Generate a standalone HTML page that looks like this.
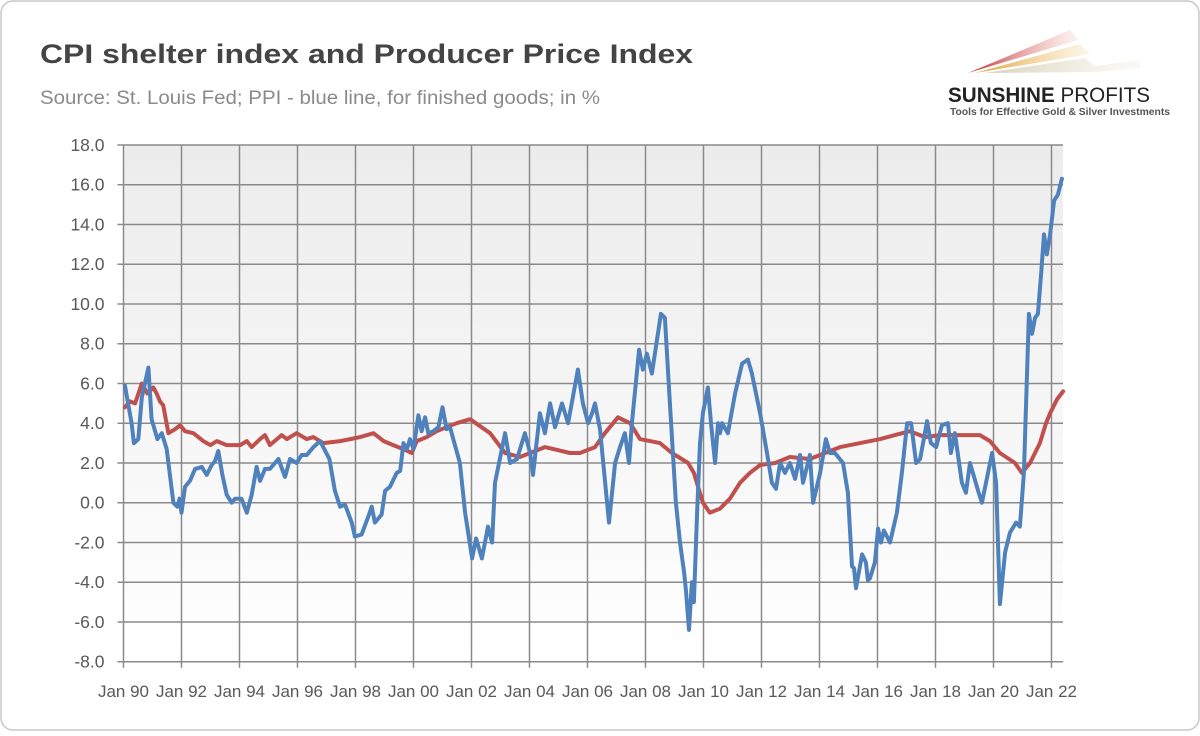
<!DOCTYPE html>
<html><head><meta charset="utf-8"><style>
body{margin:0;background:#fff;}
#wrap{position:relative;width:1200px;height:731px;font-family:"Liberation Sans",sans-serif;}
</style></head><body>
<div id="wrap">
<svg id="svg" width="1200" height="731" xmlns="http://www.w3.org/2000/svg">
<defs>
<linearGradient id="bg" x1="0" y1="0" x2="0" y2="1"><stop offset="0" stop-color="#ececec"/><stop offset="1" stop-color="#ffffff"/></linearGradient>
<linearGradient id="r1" x1="0" y1="0" x2="1" y2="0"><stop offset="0" stop-color="#c0282d"/><stop offset="1" stop-color="#f6d0c8" stop-opacity="0.3"/></linearGradient>
<linearGradient id="r2" x1="0" y1="0" x2="1" y2="0"><stop offset="0" stop-color="#e0a030"/><stop offset="1" stop-color="#f6e0b0" stop-opacity="0.3"/></linearGradient>
<linearGradient id="r3" x1="0" y1="0" x2="1" y2="0"><stop offset="0" stop-color="#d8d0b8"/><stop offset="1" stop-color="#f0ece0" stop-opacity="0.3"/></linearGradient>
</defs>
<rect x="1" y="1" width="1198" height="729" rx="12" fill="#fff" stroke="#c8c8c8" stroke-width="1.5"/>
<text x="40" y="63" font-size="27" font-weight="bold" fill="#444" textLength="653" lengthAdjust="spacingAndGlyphs">CPI shelter index and Producer Price Index</text>
<text x="40" y="104" font-size="19" fill="#8a8a8a" textLength="560" lengthAdjust="spacingAndGlyphs">Source: St. Louis Fed; PPI - blue line, for finished goods; in %</text>
<g>
<polygon points="968,73 1070,30 1078,40" fill="url(#r1)"/>
<polygon points="975,73 1080,44 1090,54" fill="url(#r2)"/>
<polygon points="985,73 1085,58 1095,66 1140,60 1140,68 1095,72" fill="url(#r3)"/>
<text x="948" y="102" font-size="21" font-weight="bold" fill="#222" textLength="202" lengthAdjust="spacingAndGlyphs">SUNSHINE <tspan font-weight="normal">PROFITS</tspan></text>
<text x="950" y="115" font-size="10" font-weight="bold" fill="#555" textLength="220" lengthAdjust="spacingAndGlyphs">Tools for Effective Gold &amp; Silver Investments</text>
</g>
<g id="plot"></g>
</svg>
</div>
<script>
const yTicks=[18,16,14,12,10,8,6,4,2,0,-2,-4,-6,-8];
const xTickYears=[1990,1992,1994,1996,1998,2000,2002,2004,2006,2008,2010,2012,2014,2016,2018,2020,2022];
const xTickLabels=["Jan 90","Jan 92","Jan 94","Jan 96","Jan 98","Jan 00","Jan 02","Jan 04","Jan 06","Jan 08","Jan 10","Jan 12","Jan 14","Jan 16","Jan 18","Jan 20","Jan 22"];
const ppiDates=[1990.05,1990.28,1990.36,1990.51,1990.63,1990.86,1990.97,1991.17,1991.32,1991.49,1991.72,1991.86,1991.93,1992.0,1992.12,1992.29,1992.47,1992.7,1992.87,1993.04,1993.16,1993.27,1993.41,1993.56,1993.73,1993.85,1994.07,1994.25,1994.42,1994.59,1994.71,1994.88,1995.05,1995.34,1995.57,1995.74,1995.97,1996.14,1996.32,1996.55,1996.78,1997.1,1997.29,1997.47,1997.64,1997.87,1997.98,1998.21,1998.44,1998.56,1998.67,1998.9,1999.02,1999.19,1999.42,1999.54,1999.65,1999.77,1999.88,2000.0,2000.17,2000.28,2000.4,2000.51,2000.68,2000.86,2001.0,2001.14,2001.26,2001.6,2001.78,2002.02,2002.16,2002.36,2002.57,2002.71,2002.81,2003.16,2003.33,2003.57,2003.84,2004.02,2004.12,2004.36,2004.53,2004.71,2004.88,2005.12,2005.33,2005.67,2005.84,2006.02,2006.16,2006.26,2006.43,2006.74,2006.95,2007.12,2007.29,2007.43,2007.53,2007.78,2007.91,2008.05,2008.22,2008.53,2008.67,2008.84,2009.05,2009.19,2009.33,2009.4,2009.5,2009.6,2009.67,2009.78,2009.88,2009.98,2010.15,2010.26,2010.4,2010.5,2010.57,2010.64,2010.84,2011.09,2011.33,2011.53,2011.67,2011.95,2012.19,2012.36,2012.5,2012.64,2012.81,2012.98,2013.16,2013.33,2013.43,2013.67,2013.78,2014.02,2014.22,2014.36,2014.53,2014.81,2014.98,2015.12,2015.19,2015.26,2015.47,2015.6,2015.67,2015.74,2015.91,2016.02,2016.12,2016.22,2016.43,2016.67,2016.84,2017.02,2017.16,2017.33,2017.47,2017.71,2017.84,2018.02,2018.22,2018.43,2018.53,2018.67,2018.91,2019.05,2019.19,2019.47,2019.6,2019.74,2019.95,2020.09,2020.22,2020.4,2020.57,2020.78,2020.91,2021.05,2021.22,2021.33,2021.43,2021.53,2021.64,2021.74,2021.84,2021.95,2022.09,2022.22,2022.36];
const ppiValues=[5.9,4.0,3.0,3.2,5.3,6.8,4.2,3.2,3.5,2.7,0.0,-0.2,0.2,-0.5,0.8,1.1,1.7,1.8,1.4,1.9,2.1,2.6,1.4,0.4,0.0,0.2,0.2,-0.5,0.4,1.8,1.1,1.7,1.7,2.2,1.3,2.2,2.0,2.4,2.4,2.8,3.1,2.2,0.6,-0.2,-0.1,-1.0,-1.7,-1.6,-0.7,-0.2,-1.0,-0.6,0.6,0.8,1.5,1.6,3.0,2.7,3.2,2.7,4.4,3.6,4.3,3.5,3.6,3.8,4.8,3.7,3.8,2.0,-0.5,-2.8,-1.8,-2.8,-1.2,-2.0,1.0,3.5,2.0,2.2,3.5,2.5,1.4,4.5,3.5,5.0,3.8,5.0,4.0,6.7,5.0,4.0,4.5,5.0,3.7,-1.0,2.0,2.8,3.5,2.0,4.0,7.7,6.7,7.5,6.5,9.5,9.3,5.0,0.0,-2.0,-3.5,-4.5,-6.4,-4.0,-5.0,-0.5,3.0,4.5,5.8,4.0,2.0,4.0,3.5,4.0,3.5,5.5,7.0,7.2,6.5,4.5,2.5,1.0,0.7,2.0,1.5,2.0,1.2,2.4,1.0,2.4,0.0,1.5,3.2,2.5,2.5,2.0,0.5,-3.2,-3.3,-4.3,-2.6,-3.0,-3.9,-3.8,-3.0,-1.3,-2.0,-1.4,-2.0,-0.5,1.5,4.0,4.0,2.0,2.2,4.1,3.0,2.8,3.9,4.0,2.5,3.5,1.0,0.5,2.0,0.6,0.0,1.0,2.5,1.0,-5.1,-2.5,-1.5,-1.0,-1.2,1.5,9.5,8.5,9.3,9.5,11.5,13.5,12.5,13.5,15.2,15.5,16.3];
const cpiDates=[1990.05,1990.22,1990.4,1990.63,1990.82,1991.03,1991.14,1991.26,1991.37,1991.55,1991.78,1991.95,1992.12,1992.41,1992.75,1993.0,1993.22,1993.56,1994.02,1994.25,1994.42,1994.71,1994.88,1995.05,1995.45,1995.63,1995.97,1996.32,1996.55,1996.89,1997.47,1997.82,1998.16,1998.62,1998.97,1999.3,1999.65,1999.94,2000.11,2000.45,2000.8,2001.14,2001.49,2001.95,2002.64,2003.16,2003.67,2004.02,2004.53,2005.4,2005.74,2006.26,2006.6,2007.05,2007.47,2007.81,2008.5,2008.91,2009.47,2009.67,2009.98,2010.22,2010.57,2010.91,2011.26,2011.6,2011.95,2012.47,2012.98,2013.67,2014.19,2014.71,2015.4,2016.09,2016.6,2017.12,2017.64,2018.16,2018.84,2019.53,2019.88,2020.22,2020.74,2020.98,2021.26,2021.43,2021.6,2021.81,2021.95,2022.19,2022.4];
const cpiValues=[4.8,5.1,5.0,6.0,5.5,5.8,5.5,5.1,4.9,3.5,3.7,3.9,3.6,3.5,3.1,2.9,3.1,2.9,2.9,3.1,2.8,3.2,3.4,2.9,3.4,3.2,3.5,3.2,3.3,3.0,3.1,3.2,3.3,3.5,3.1,2.9,2.7,2.5,3.1,3.3,3.6,3.8,4.0,4.2,3.5,2.5,2.3,2.5,2.8,2.5,2.5,2.8,3.5,4.3,4.0,3.2,3.0,2.5,2.0,1.5,0.0,-0.5,-0.3,0.2,1.0,1.5,1.9,2.0,2.3,2.2,2.5,2.8,3.0,3.2,3.4,3.6,3.3,3.4,3.4,3.4,3.1,2.5,2.0,1.5,2.0,2.5,3.0,4.0,4.5,5.2,5.6];

const L=123.5,R=1063,T=145,B=661.7,yMin=-8,yMax=18;
const px=yr=>L+(yr-1990)*29;
const py=v=>B-(v-yMin)/(yMax-yMin)*(B-T);
const NS="http://www.w3.org/2000/svg";
const g=document.getElementById('plot');
function mk(t,a){const e=document.createElementNS(NS,t);for(const k in a)e.setAttribute(k,a[k]);g.appendChild(e);return e;}
const bg=mk('rect',{x:L,y:T,width:R-L,height:B-T,fill:'url(#bg)'});


yTicks.forEach(v=>{
 const ln=mk('line',{x1:L-6,x2:R,y1:py(v),y2:py(v),stroke:'#8a8a8a','stroke-width':1.5});
 
 
 const t=mk('text',{x:L-19,y:py(v)+6,'text-anchor':'end','font-size':17.5,fill:'#595959'});
 t.textContent=v.toFixed(1);
 
 
});
xTickYears.forEach((yr,i)=>{
 const ln=mk('line',{x1:px(yr),x2:px(yr),y1:T,y2:B+6,stroke:'#8a8a8a','stroke-width':1.5});
 
 
 const t=mk('text',{x:px(yr),y:697,'text-anchor':'middle','font-size':17,fill:'#595959'});
 t.textContent=xTickLabels[i];
 
 
});
function line(d,v,c,name){
 let s='';d.forEach((x,i)=>{s+=(i?'L':'M')+px(x).toFixed(1)+','+py(v[i]).toFixed(1);});
 const p=mk('path',{d:s,fill:'none',stroke:c,'stroke-width':4,'stroke-linejoin':'round','stroke-linecap':'round'});
 
 
}
line(cpiDates,cpiValues,'#c0504d','cpi-shelter-line');
line(ppiDates,ppiValues,'#4f81bd','ppi-line');
</script>
</body></html>
